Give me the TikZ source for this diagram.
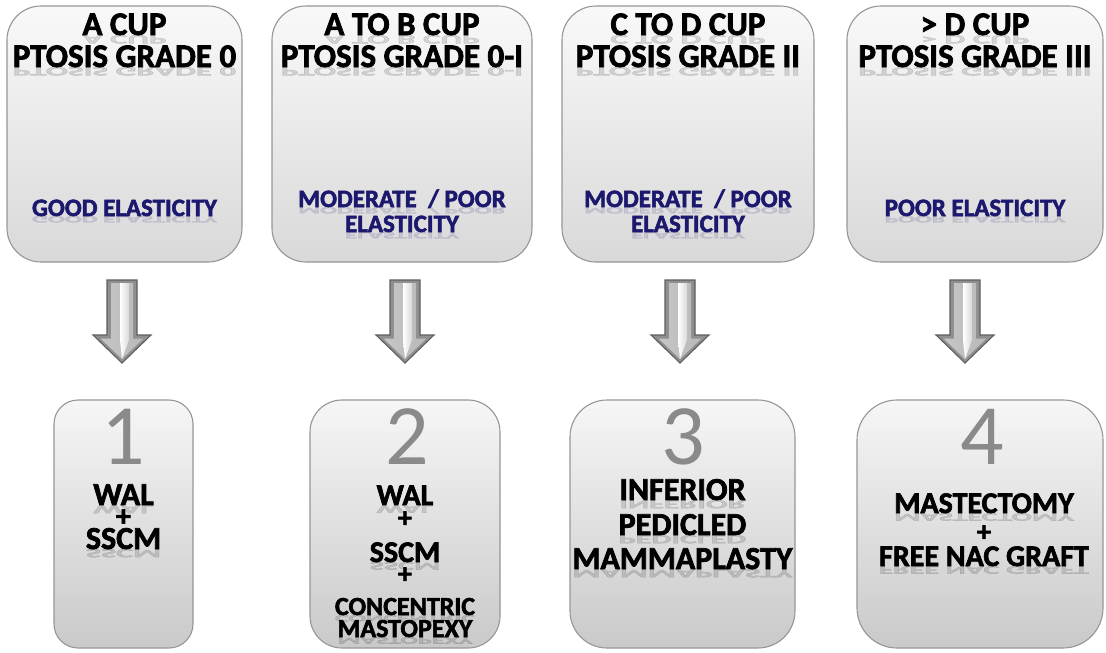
\documentclass[tikz,border=0pt]{standalone}
\usepackage{fontspec}
\setmainfont{Carlito}[BoldFeatures={FakeBold=2.2}]
\definecolor{boxline}{RGB}{150,150,150}
\definecolor{elastic}{RGB}{28,24,110}
\definecolor{numgray}{RGB}{138,138,138}
\definecolor{arrowline}{RGB}{95,95,95}
% text with a faint mirrored copy hanging below its baseline
\newcommand\shinetext[5]{%
  \node[#4, anchor=base, text opacity=0.13] (#1r) at (#2,#3) {\scalebox{1}[-0.4]{#5}};
  \node[#4, anchor=base] (#1) at (#2,#3) {#5};
}
\begin{document}
\begin{tikzpicture}[x=1pt, y=-1pt,
  topbox/.style={draw=boxline, line width=1.1pt, rounded corners=34pt,
    top color=gray!5, bottom color=gray!30, inner sep=0pt},
  botbox/.style={draw=boxline, line width=1.1pt,
    top color=gray!7, bottom color=gray!42, inner sep=0pt},
  title/.style={font=\bfseries\fontsize{33}{36}\selectfont, inner sep=0pt},
  elast/.style={font=\bfseries\fontsize{25}{28}\selectfont, text=elastic, inner sep=0pt},
  numtxt/.style={font=\fontsize{86}{90}\selectfont, text=numgray, inner sep=0pt},
  proc/.style={font=\bfseries\fontsize{#1}{#1}\selectfont, inner sep=0pt},
  blockarrow/.pic={
    \fill[arrowline!70] (-15,0) -- (15,0) -- (15,55) -- (29,55) -- (0,83)
      -- (-29,55) -- (-15,55) -- cycle;
    \shade[left color=gray!45, middle color=white, right color=gray!55]
      (-11,3) -- (11,3) -- (11,58.5) -- (21.5,58.5) -- (0,79)
      -- (-21.5,58.5) -- (-11,58.5) -- cycle;
    \shade[left color=white, right color=gray!30]
      (-2,3) -- (7,3) -- (7,60) -- (0,79) -- (-2,60) -- cycle;
    \draw[arrowline, line width=1.1pt, line join=miter]
      (-15,0) -- (15,0) -- (15,55) -- (29,55) -- (0,83)
      -- (-29,55) -- (-15,55) -- cycle;
  }]
\useasboundingbox (0,0) rectangle (1106,653);
\fill[white] (0,0) rectangle (1106,653);

% upper row: breast size, ptosis and skin elasticity
\node[topbox, minimum width=235pt, minimum height=256pt] (t1) at (124.5,134) {};
\node[topbox, minimum width=260pt, minimum height=256pt] (t2) at (402,134) {};
\node[topbox, minimum width=252pt, minimum height=256pt] (t3) at (688,134) {};
\node[topbox, minimum width=256pt, minimum height=256pt] (t4) at (975,134) {};

\shinetext{t1a}{124.5}{35}{title}{A CUP}
\shinetext{t1b}{124.5}{67}{title}{PTOSIS GRADE 0}
\shinetext{t1c}{124.5}{216}{elast}{GOOD ELASTICITY}

\shinetext{t2a}{402}{35}{title}{A TO B CUP}
\shinetext{t2b}{402}{67}{title}{PTOSIS GRADE 0-I}
\shinetext{t2c}{402}{207}{elast}{MODERATE \ / POOR}
\shinetext{t2d}{402}{232}{elast}{ELASTICITY}

\shinetext{t3a}{688}{35}{title}{C TO D CUP}
\shinetext{t3b}{688}{67}{title}{PTOSIS GRADE II}
\shinetext{t3c}{688}{207}{elast}{MODERATE \ / POOR}
\shinetext{t3d}{688}{232}{elast}{ELASTICITY}

\shinetext{t4a}{975}{35}{title}{> D CUP}
\shinetext{t4b}{975}{67}{title}{PTOSIS GRADE III}
\shinetext{t4c}{975}{216}{elast}{POOR ELASTICITY}

% arrows from each profile down to its procedure
\coordinate (a1) at (122,280);
\coordinate (a2) at (405,280);
\coordinate (a3) at (680,280);
\coordinate (a4) at (965,280);
\foreach \a in {a1,a2,a3,a4} { \pic at (\a) {blockarrow}; }

% lower row: surgical procedures
\node[botbox, rounded corners=24pt, minimum width=139pt, minimum height=248pt] (b1) at (123.5,524) {};
\node[botbox, rounded corners=32pt, minimum width=190pt, minimum height=248pt] (b2) at (405,524) {};
\node[botbox, rounded corners=37pt, minimum width=225pt, minimum height=248pt] (b3) at (682.5,524) {};
\node[botbox, rounded corners=40pt, minimum width=246pt, minimum height=248pt] (b4) at (980,524) {};

\node[numtxt, anchor=base] (n1) at (123.5,464) {1};
\node[numtxt, anchor=base] (n2) at (407,464) {2};
\node[numtxt, anchor=base] (n3) at (683,464) {3};
\node[numtxt, anchor=base] (n4) at (982,464) {4};

\shinetext{b1a}{123.5}{505}{proc=32}{WAL}
\node[proc=30, anchor=base] (b1b) at (123.5,526) {+};
\shinetext{b1c}{123.5}{549}{proc=32}{SSCM}

\shinetext{b2a}{405}{505}{proc=30}{WAL}
\node[proc=28, anchor=base] (b2b) at (405,527) {+};
\shinetext{b2c}{405}{562}{proc=30}{SSCM}
\node[proc=28, anchor=base] (b2d) at (405,583) {+};
\shinetext{b2e}{405}{615}{proc=26}{CONCENTRIC}
\shinetext{b2f}{405}{637}{proc=26}{MASTOPEXY}

\shinetext{b3a}{682.5}{500}{proc=32}{INFERIOR}
\shinetext{b3b}{682.5}{535}{proc=32}{PEDICLED}
\shinetext{b3c}{682.5}{569}{proc=32}{MAMMAPLASTY}

\shinetext{b4a}{984}{513}{proc=30}{MASTECTOMY}
\node[proc=28, anchor=base] (b4b) at (984,541) {+};
\shinetext{b4c}{984}{566}{proc=30}{FREE NAC GRAFT}
\end{tikzpicture}
\end{document}
